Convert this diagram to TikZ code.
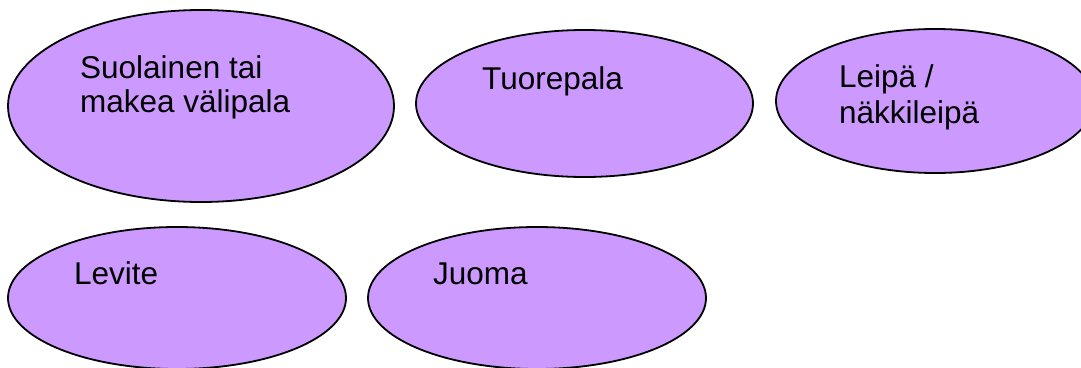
\documentclass[tikz,border=0pt]{standalone}
\usepackage{fontspec}
\setmainfont{Liberation Sans}
\usetikzlibrary{shapes.geometric}
\definecolor{lilac}{HTML}{CC99FF}
\tikzset{
  bubble/.style={ellipse, draw=black, line width=1.8pt, fill=lilac, inner sep=0pt},
  label1/.style={inner sep=0pt, anchor=base west, text=black,
    font=\fontsize{31.5}{36}\selectfont},
  label2/.style={inner sep=0pt, anchor=north west, align=left, text=black,
    font=\fontsize{31.5}{34.5}\selectfont}
}
\begin{document}
\begin{tikzpicture}[x=1pt, y=-1pt]
  \clip (0,0) rectangle (1081,367);
  \fill[white] (0,0) rectangle (1081,367);
  % top row
  \node[bubble, minimum width=386pt, minimum height=192pt] (snack) at (201,106) {};
  \node[bubble, minimum width=337pt, minimum height=147pt] (fresh) at (584.5,103.5) {};
  \node[bubble, minimum width=318pt, minimum height=144pt] (bread) at (935,101) {};
  % bottom row
  \node[bubble, minimum width=338pt, minimum height=142pt] (spread) at (177,298) {};
  \node[bubble, minimum width=338pt, minimum height=142pt] (drink) at (537,298) {};
  % labels
  \node[label2] (snacktext) at (80,55) {Suolainen tai\\makea välipala};
  \node[label1] (freshtext) at (482,89) {Tuorepala};
  \node[label2, font=\fontsize{31.5}{36.5}\selectfont] (breadtext) at (839,64) {Leipä /\\näkkileipä};
  \node[label1] (spreadtext) at (74,284) {Levite};
  \node[label1] (drinktext) at (433,284) {Juoma};
\end{tikzpicture}
\end{document}
